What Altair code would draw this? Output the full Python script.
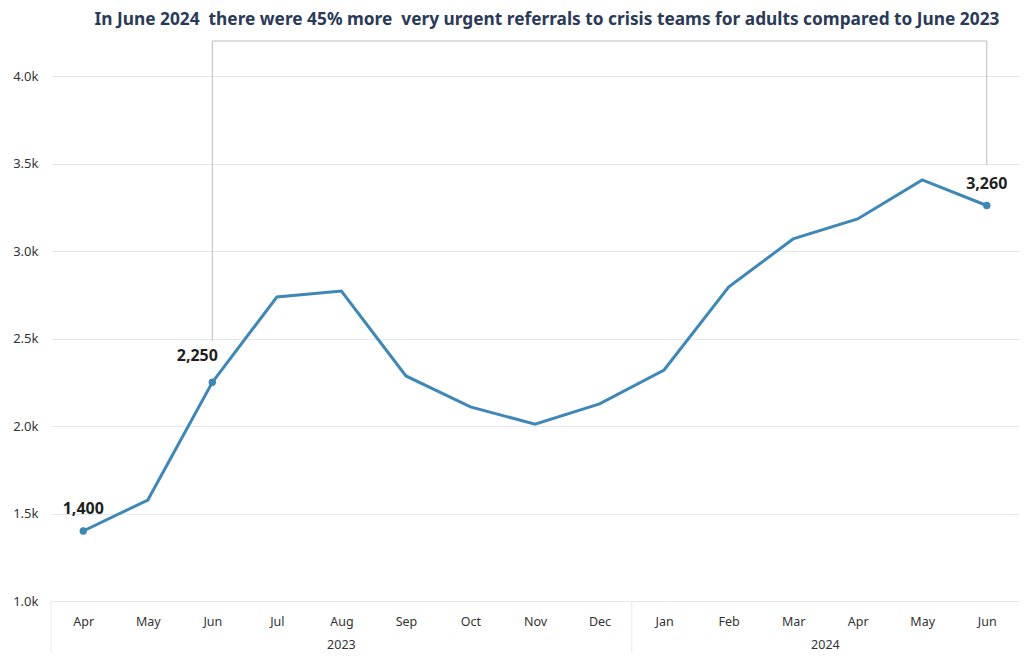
import altair as alt
import pandas as pd

months = ["Apr", "May", "Jun", "Jul", "Aug", "Sep", "Oct", "Nov", "Dec",
          "Jan", "Feb", "Mar", "Apr", "May", "Jun"]
years = [2023] * 9 + [2024] * 6
values = [1400, 1577, 2250, 2737, 2771, 2286, 2109, 2011, 2126,
          2320, 2794, 3069, 3183, 3406, 3260]
labelled = [0, 2, 14]          # indices of points with value labels
bracket = [2, 14]              # Jun 2023 vs Jun 2024
bracket_low = [2486, 3491]     # where the annotation leader lines stop
title_text = ("In June 2024 \u00a0there were 45% more \u00a0very urgent referrals to crisis "
              "teams for adults compared to June 2023")

W, H = 968, 560
YMIN, YMAX = 1000, 4200
LINE = "#3f87b5"
GRID = "#e3e8f0"

df = pd.DataFrame({"i": list(range(len(months))), "month": months,
                   "year": years, "value": values})
df["label"] = [f"{v:,}" for v in values]
lab = df[df["i"].isin(labelled)]

yr = df.groupby("year")["i"].agg(["min", "max"]).reset_index()
yr["pos"] = (yr["min"] + yr["max"]) / 2
sep = pd.DataFrame({"x": [-0.5] + [yr["max"].iloc[k] + 0.5 for k in range(len(yr) - 1)]})

br = pd.DataFrame({"i": bracket, "low": bracket_low, "top": [YMAX, YMAX]})
brh = pd.DataFrame({"a": [bracket[0]], "b": [bracket[1]], "top": [YMAX]})

label_expr = "[" + ",".join(f"'{m}'" for m in months) + "][datum.value]"

xscale = alt.Scale(domain=[-0.5, len(months) - 0.5], nice=False, zero=False)
yscale = alt.Scale(domain=[YMIN, YMAX], nice=False, zero=False)

xenc = alt.X("i:Q", scale=xscale, title=None,
             axis=alt.Axis(values=list(range(len(months))), labelExpr=label_expr,
                           grid=False, ticks=False, domainColor=GRID,
                           labelPadding=14, labelFontSize=12.5, labelColor="#333333",
                           labelFont="Noto Sans"))
yenc = alt.Y("value:Q", scale=yscale, title=None,
             axis=alt.Axis(values=list(range(1000, 4001, 500)),
                           labelExpr="format(datum.value/1000, '.1f') + 'k'",
                           domain=False, ticks=False, gridColor=GRID,
                           labelPadding=13, labelFontSize=13, labelColor="#333333",
                           labelFont="Noto Sans"))

base = alt.Chart(df)
line = base.mark_line(color=LINE, strokeWidth=3).encode(x=xenc, y=yenc)
pts = alt.Chart(lab).mark_point(filled=True, color=LINE, size=55, opacity=1).encode(
    x="i:Q", y="value:Q")
txt_a = alt.Chart(lab[lab["i"] != bracket[0]]).mark_text(
    dy=-22, fontSize=16, fontWeight="bold", color="#1f1f1f", font="Noto Sans"
).encode(x="i:Q", y="value:Q", text="label:N")
txt_b = alt.Chart(lab[lab["i"] == bracket[0]]).mark_text(
    dy=-26, dx=-15, fontSize=16, fontWeight="bold", color="#1f1f1f", font="Noto Sans"
).encode(x="i:Q", y="value:Q", text="label:N")

vlines = alt.Chart(br).mark_rule(color="#bdbdbd", strokeWidth=1).encode(
    x="i:Q", y="low:Q", y2="top:Q")
hline = alt.Chart(brh).mark_rule(color="#bdbdbd", strokeWidth=1).encode(
    x="a:Q", x2="b:Q", y="top:Q")

seps = alt.Chart(sep).mark_rule(color=GRID, strokeWidth=1).encode(
    x="x:Q", y=alt.value(H), y2=alt.value(H + 52))
yrs = alt.Chart(yr).mark_text(fontSize=12.5, color="#333333", font="Noto Sans",
                              baseline="middle").encode(
    x="pos:Q", y=alt.value(H + 44), text="year:N")

chart = alt.layer(hline, vlines, seps, line, pts, txt_a, txt_b, yrs).properties(
    width=W, height=H,
    title=alt.TitleParams(title_text, font="Noto Sans", fontSize=17.3, fontWeight="bold",
                          color="#2a3a57", anchor="middle", dx=12, offset=12),
    autosize=alt.AutoSizeParams(type="none"),
    padding={"left": 43, "top": 33, "right": 0, "bottom": 52},
).configure_view(stroke=None)

chart.save("out.html", embed_options={"renderer": "svg", "actions": False})
